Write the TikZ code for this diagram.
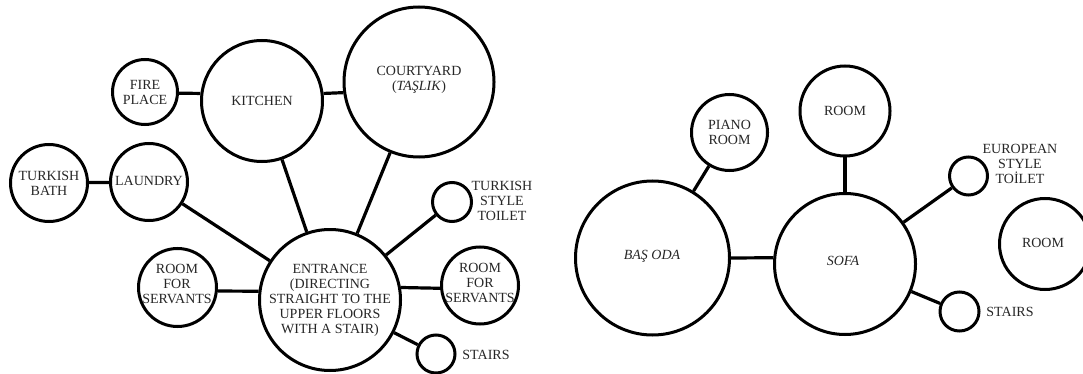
\documentclass[tikz,border=0pt]{standalone}
\usepackage{fontspec}
\setmainfont{Liberation Serif}
\begin{document}
\begin{tikzpicture}[x=1pt,y=-1pt,
  room/.style={circle,draw=black,line width=3pt,inner sep=0pt},
  lbl/.style={align=center,font=\fontsize{14}{15}\selectfont,text=black!85,inner sep=0pt},
  link/.style={line width=3.2pt,draw=black}]
\useasboundingbox (0,0) rectangle (1083,374);
\clip (0,0) rectangle (1083,374);
% ---------- left diagram ----------
\node[room,minimum size=65pt]  (fire)  at (145,92)     {};
\node[room,minimum size=121pt] (kit)   at (262,101)    {};
\node[room,minimum size=150pt] (court) at (419,82)     {};
\node[room,minimum size=77pt]  (bath)  at (49,183)     {};
\node[room,minimum size=77pt]  (laun)  at (149,182)    {};
\node[room,minimum size=39pt]  (tt)    at (452,202)    {};
\node[room,minimum size=78pt]  (rsl)   at (177.5,287.5){};
\node[room,minimum size=141pt] (ent)   at (330,300)    {};
\node[room,minimum size=77pt]  (rsr)   at (480,285.5)  {};
\node[room,minimum size=38pt]  (stl)   at (436,354)    {};
\draw[link] (fire.-2) -- (kit.173);
\draw[link] (kit.7) -- (court.188);
\draw[link] (bath) -- (laun);
\draw[link] (laun) -- (ent);
\draw[link] (kit) -- (ent);
\draw[link] (court) -- (ent);
\draw[link] (tt) -- (ent);
\draw[link] (rsl.-5) -- (ent.173);
\draw[link] (ent.10) -- (rsr.184);
\draw[link] (ent) -- (stl);
\node[lbl] (tfire)  at (fire)      {FIRE\\PLACE};
\node[lbl] (tkit)   at (kit)       {KITCHEN};
\node[lbl] (tcourt) at (419,80)    {COURTYARD\\(\textit{TAŞLIK})};
\node[lbl] (tbath)  at (bath)      {TURKISH\\BATH};
\node[lbl] (tlaun)  at (149,181)   {LAUNDRY};
\node[lbl] (ttt)    at (502,201)   {TURKISH\\STYLE\\TOILET};
\node[lbl] (trsl)   at (177,284)   {ROOM\\FOR\\SERVANTS};
\node[lbl] (tent)   at (ent)       {ENTRANCE\\(DIRECTING\\STRAIGHT TO THE\\UPPER FLOORS\\WITH A STAIR)};
\node[lbl] (trsr)   at (480,283)   {ROOM\\FOR\\SERVANTS};
\node[lbl] (tstl)   at (486,355)   {STAIRS};
% ---------- right diagram ----------
\node[room,minimum size=76pt]  (piano) at (729.5,132.5){};
\node[room,minimum size=90pt]  (roomt) at (845,111)    {};
\node[room,minimum size=154pt] (bas)   at (652.5,258)  {};
\node[room,minimum size=141pt] (sofa)  at (845,264)    {};
\node[room,minimum size=38pt]  (et)    at (968.5,176)  {};
\node[room,minimum size=91pt]  (roomr) at (1045,244)   {};
\node[room,minimum size=39pt]  (str)   at (959.5,311.5){};
\draw[link] (piano) -- (bas);
\draw[link] (roomt) -- (sofa);
\draw[link] (bas.0) -- (sofa.175);
\draw[link] (sofa) -- (et);
\draw[link] (sofa) -- (str);
\node[lbl] (tpiano) at (piano)     {PIANO\\ROOM};
\node[lbl] (troomt) at (roomt)     {ROOM};
\node[lbl] (tbas)   at (652,256)   {\textit{BAŞ ODA}};
\node[lbl] (tsofa)  at (843,261)   {\textit{SOFA}};
\node[lbl] (tet)    at (1020,164)  {EUROPEAN\\STYLE\\TOİLET};
\node[lbl] (troomr) at (1043,243)  {ROOM};
\node[lbl] (tstr)   at (1010,312)  {STAIRS};
\end{tikzpicture}
\end{document}
